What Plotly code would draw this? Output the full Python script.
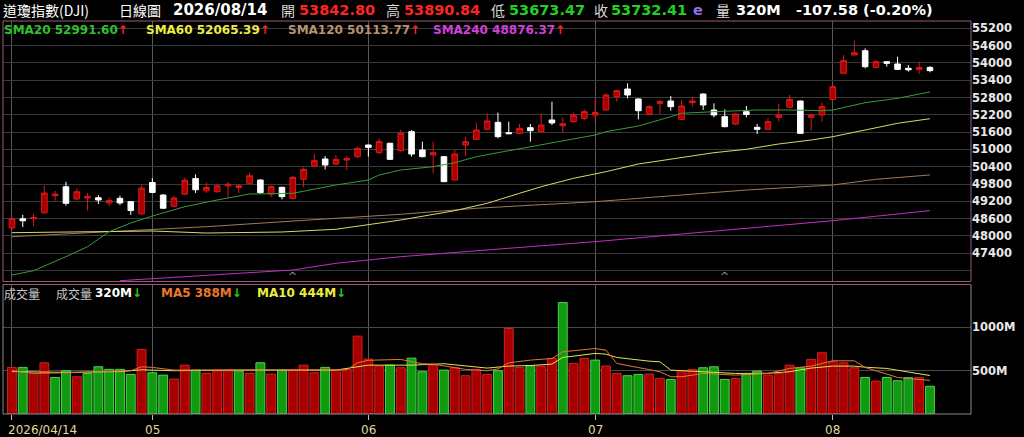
import plotly.graph_objects as go

# ---------------- data ----------------
opens = [48274, 48594, 48594, 48800, 49394, 49703, 49280, 49314, 49325, 49143,
         49303, 49188, 48765, 49851, 49417, 49028, 49451, 49988, 49565, 49531,
         49737, 49680, 49825, 49939, 49453, 49685, 49303, 49962, 50424, 50667,
         50494, 50632, 50748, 51153, 50887, 51211, 50956, 51615, 50979, 50806,
         50748, 49939, 51153, 51349, 51697, 51939, 51580, 51557, 51754, 51615,
         52020, 51820, 51962, 52077, 52190, 52367, 52829, 53095, 52748, 52228,
         52598, 52679, 52043, 52621, 52921, 52367, 52135, 51881, 52309, 51765,
         51696, 52112, 52459, 52679, 52112, 52193, 52736, 53638, 54274, 54424,
         53846, 54042, 53962, 53812, 53776, 53842.80]
highs = [48651, 48731, 48765, 49737, 49565, 49874, 49645, 49485, 49417, 49337,
         49394, 49211, 49760, 50000, 49451, 49394, 50023, 50137, 49851, 49794,
         49874, 49794, 50192, 49962, 49754, 49708, 50077, 50378, 50840, 50771,
         50806, 50771, 51095, 51165, 51384, 51234, 51673, 51673, 51268, 51268,
         50771, 50979, 51442, 51927, 52251, 52274, 51962, 51881, 51881, 52251,
         52655, 52112, 52274, 52390, 52736, 52945, 53060, 53291, 52771, 52540,
         52713, 52852, 52713, 52829, 52945, 52598, 52390, 52251, 52505, 51881,
         52077, 52575, 52887, 52690, 52228, 52621, 53233, 54274, 54771, 54505,
         54100, 54054, 54216, 53927, 54042, 53890.84]
lows = [48217, 48308, 48343, 48780, 49223, 49051, 49257, 48880, 49108, 49028,
        49074, 48731, 48742, 49485, 48937, 48994, 49417, 49485, 49485, 49508,
        49337, 49485, 49790, 49453, 49338, 49268, 49268, 49685, 50401, 50309,
        50459, 50286, 50690, 50748, 50840, 50633, 50921, 50748, 50725, 50170,
        49881, 49939, 50771, 51326, 51673, 51384, 51534, 51534, 51268, 51580,
        51846, 51580, 51927, 52020, 51962, 52343, 52655, 52771, 52043, 52193,
        52228, 52343, 52020, 52482, 52367, 52112, 51765, 51846, 52112, 51534,
        51673, 51962, 52424, 51534, 51650, 51962, 52713, 53615, 54262, 53812,
        53812, 53869, 53754, 53696, 53615, 53673.47]
closes = [48594, 48525, 48640, 49485, 49451, 49131, 49531, 49371, 49245, 49230,
          49143, 48880, 49657, 49508, 48960, 49314, 49931, 49600, 49680, 49737,
          49794, 49737, 50088, 49500, 49708, 49361, 50031, 50309, 50609, 50459,
          50655, 50690, 51037, 51072, 51269, 50656, 51557, 50840, 50748, 50887,
          49881, 50840, 51269, 51673, 51986, 51442, 51546, 51731, 51650, 51846,
          51920, 51890, 52193, 52309, 52280, 52887, 53037, 52887, 52343, 52482,
          52655, 52482, 52505, 52679, 52540, 52193, 51789, 52228, 52210, 51696,
          51962, 52193, 52736, 51557, 52193, 52482, 53175, 54077, 54355, 53869,
          54042, 53985, 53776, 53760, 53839.99, 53732.41]
volumes = [538, 538, 468, 591, 422, 499, 430, 468, 545, 515,
           515, 457, 745, 476, 449, 403, 564, 507, 468, 499,
           499, 499, 468, 591, 461, 507, 507, 564, 476, 538,
           507, 515, 899, 634, 553, 564, 534, 645, 488, 564,
           507, 534, 442, 515, 457, 499, 987, 538, 557, 553,
           641, 1286, 584, 641, 622, 553, 468, 442, 457, 461,
           411, 399, 499, 515, 534, 545, 399, 411, 457, 495,
           449, 468, 564, 534, 630, 707, 603, 591, 534, 422,
           380, 422, 384, 419, 419, 320]

sma20_idx = [0, 2, 5, 7, 9, 11, 13, 16, 19, 22, 26, 30, 33, 34, 36, 39, 41, 43, 46, 49,
             52, 54, 55, 58, 61, 62, 65, 69, 72, 75, 76, 77, 79, 82, 85]
sma20_val = [46644, 46794, 47279, 47626, 48146, 48448, 48691, 49013, 49245, 49453,
             49478, 49766, 49939, 50112, 50286, 50400, 50539, 50747, 50955, 51153,
             51350, 51500, 51614, 51812, 52134, 52252, 52308, 52367, 52367, 52343,
             52367, 52460, 52620, 52772, 52991.60]
sma60_idx = [0, 9, 13, 18, 25, 30, 33, 36, 41, 44, 47, 49, 52, 55, 58, 62, 65, 68, 71,
             74, 76, 79, 82, 85]
sma60_val = [48112, 48160, 48170, 48100, 48136, 48230, 48379, 48552, 48875, 49131,
             49478, 49707, 49998, 50227, 50494, 50720, 50886, 51004, 51188, 51326,
             51441, 51673, 51905, 52065.39]
sma120_idx = [0, 9, 18, 30, 36, 43, 54, 62, 68, 76, 80, 85]
sma120_val = [47973, 48146, 48320, 48611, 48750, 48958, 49187, 49419, 49592, 49766,
              49963, 50113.77]
sma240_idx = [10, 17, 26, 30, 36, 46, 54, 62, 68, 76, 85]
sma240_val = [46447, 46610, 46818, 47050, 47279, 47570, 47800, 48066, 48264, 48528,
              48876.37]

ma5_idx = [0, 2, 5, 8, 11, 12, 13, 15, 20, 25, 31, 32, 33, 36, 38, 39, 42, 44, 45, 46,
           48, 50, 51, 54, 55, 56, 60, 61, 62, 64, 67, 70, 72, 74, 76, 78, 79, 81, 82, 85]
ma5_val = [500, 470, 476, 488, 500, 545, 538, 507, 507, 507, 510, 590, 620, 630, 580,
           576, 515, 500, 520, 591, 622, 641, 718, 756, 737, 584, 488, 430, 430, 468,
           449, 468, 526, 553, 614, 614, 538, 461, 422, 388]
ma10_idx = [0, 5, 10, 12, 15, 20, 30, 32, 33, 37, 40, 44, 45, 46, 48, 50, 51, 54, 55,
            56, 59, 60, 61, 62, 64, 67, 70, 72, 74, 76, 78, 79, 81, 82, 85]
ma10_val = [490, 480, 490, 510, 500, 507, 507, 540, 564, 564, 580, 530, 538, 553, 560,
            576, 653, 699, 691, 653, 610, 603, 507, 500, 488, 468, 470, 488, 530, 553,
            553, 540, 526, 507, 444]

month_labels = ["2026/04/14", "05", "06", "07", "08"]
month_pos = [0, 13, 33, 54, 76]
price_ticks = [46800, 47400, 48000, 48600, 49200, 49800, 50400, 51000, 51600,
               52200, 52800, 53400, 54000, 54600, 55200]
vol_ticks = [500, 1000]
vol_tick_labels = ["500M", "1000M"]

# ---------------- figure ----------------
W, H = 1024, 437
L, R, T, B = 3, 971, 21, 414          # plot area in pixels


def px(x):
    return (x - L) / (R - L)


def py(y):
    return (B - y) / (B - T)


FONT = "DejaVu Sans, Noto Sans CJK TC"
CJK = "Noto Sans CJK TC, DejaVu Sans"

idx = list(range(len(closes)))
vol_colors, vol_lines = [], []
for i in idx:
    up = closes[i] > (closes[i - 1] if i > 0 else opens[i])
    vol_colors.append("#a80000" if up else "#109a10")
    vol_lines.append("#d02020" if up else "#50d050")

fig = go.Figure()
fig.add_trace(go.Candlestick(
    x=idx, open=opens, high=highs, low=lows, close=closes,
    increasing=dict(line=dict(color="#e01818", width=1), fillcolor="#a80000"),
    decreasing=dict(line=dict(color="#ffffff", width=1), fillcolor="#ffffff"),
    whiskerwidth=0, xaxis="x", yaxis="y", hoverinfo="skip", showlegend=False))

for xs, ys, col in [(sma240_idx, sma240_val, "#c030c0"),
                    (sma120_idx, sma120_val, "#9c7c5c"),
                    (sma60_idx, sma60_val, "#d8d868"),
                    (sma20_idx, sma20_val, "#3a9a3a")]:
    fig.add_trace(go.Scatter(x=xs, y=ys, mode="lines", line=dict(color=col, width=1),
                             xaxis="x", yaxis="y", hoverinfo="skip", showlegend=False))

fig.add_trace(go.Bar(x=idx, y=volumes, marker=dict(color=vol_colors,
                     line=dict(color=vol_lines, width=1)),
                     xaxis="x2", yaxis="y2", hoverinfo="skip", showlegend=False))
fig.add_trace(go.Scatter(x=ma10_idx, y=ma10_val, mode="lines",
                         line=dict(color="#e8e050", width=1),
                         xaxis="x2", yaxis="y2", hoverinfo="skip", showlegend=False))
fig.add_trace(go.Scatter(x=ma5_idx, y=ma5_val, mode="lines",
                         line=dict(color="#e07838", width=1),
                         xaxis="x2", yaxis="y2", hoverinfo="skip", showlegend=False))

main_bottom = py(281.5)
vol_top = py(284.5)
xr = [-0.83, 88.8]
yr_main = [55200 - (281.5 - 28.3) * 34.68, 55200 + (28.3 - 21) * 34.68]

fig.update_layout(
    width=W, height=H,
    margin=dict(l=L, r=W - R, t=T, b=H - B, pad=0),
    paper_bgcolor="black", plot_bgcolor="black",
    boxgap=0.26, bargap=0.18,
    xaxis=dict(domain=[0, 1], range=xr, anchor="y", tickvals=month_pos,
               showticklabels=False, showgrid=True, gridcolor="#5a5a5a", gridwidth=1,
               zeroline=False, ticks="", rangeslider=dict(visible=False), fixedrange=True),
    xaxis2=dict(domain=[0, 1], range=xr, anchor="y2", tickvals=month_pos,
                showticklabels=False, showgrid=True, gridcolor="#5a5a5a", gridwidth=1,
                zeroline=False, ticks="outside", ticklen=5, tickcolor="#bbbbbb",
                tickwidth=1, fixedrange=True),
    yaxis=dict(domain=[main_bottom, 1], range=yr_main, side="right", anchor="x",
               tickvals=price_ticks,
               ticktext=["" if v == 46800 else str(v) for v in price_ticks],
               showgrid=True, gridcolor="#383838", gridwidth=1, zeroline=False,
               ticks="", tickfont=dict(family=FONT, size=11.5, color="#e8e8e8",
                                       weight="bold"), fixedrange=True),
    yaxis2=dict(domain=[0, vol_top], range=[0, 1495], side="right", anchor="x2",
                tickvals=vol_ticks, ticktext=vol_tick_labels,
                showgrid=True, gridcolor="#484848", gridwidth=1, zeroline=False,
                ticks="", tickfont=dict(family=FONT, size=11.5, color="#e8e8e8",
                                        weight="bold"), fixedrange=True),
)

# panel borders
fig.add_shape(type="rect", xref="paper", yref="paper", x0=0, x1=1, y0=main_bottom, y1=1,
              line=dict(color="#9a5a72", width=1))
fig.add_shape(type="rect", xref="paper", yref="paper", x0=0, x1=1, y0=0, y1=vol_top,
              line=dict(color="#8a8a8a", width=1))
fig.add_shape(type="line", xref="paper", yref="paper", x0=0, x1=1, y0=vol_top, y1=vol_top,
              line=dict(color="#9a5a72", width=1))

ann = []


def text(x, y, s, color="#ffffff", size=12, bold=False, family=FONT, anchor="left"):
    ann.append(dict(xref="paper", yref="paper", x=px(x), y=py(y), text=s,
                    showarrow=False, xanchor=anchor, yanchor="middle",
                    font=dict(family=family, size=size, color=color,
                              weight="bold" if bold else "normal")))


# header line
RED, GREEN = "#ff2424", "#22d022"
text(1, 10, "道瓊指數(DJI)", "#ffffff", 14, family=CJK)
text(117, 10, "日線圖", "#ffffff", 14, family=CJK)
text(171, 10, "2026/08/14", "#ffffff", 15, bold=True)
text(279, 10, "開", "#d8d8d8", 14, family=CJK)
text(297, 10, "53842.80", RED, 14.5, bold=True)
text(384, 10, "高", "#d8d8d8", 14, family=CJK)
text(402, 10, "53890.84", RED, 14.5, bold=True)
text(489, 10, "低", "#d8d8d8", 14, family=CJK)
text(507, 10, "53673.47", GREEN, 14.5, bold=True)
text(592, 10, "收", "#d8d8d8", 14, family=CJK)
text(609, 10, "53732.41", GREEN, 14.5, bold=True)
text(691, 10, "e", "#9070e8", 14.5, bold=True)
text(714, 10, "量", "#d8d8d8", 14, family=CJK)
text(734, 10, "320M", "#ffffff", 14.5, bold=True)
text(794, 10, "-107.58 (-0.20%)", "#ffffff", 14.5, bold=True)

# MA legend row
UP = '<span style="color:#ff2020">↑</span>'
DN = '<span style="color:#20d020">↓</span>'
text(2, 30, "SMA20 52991.60" + UP, "#2ec02e", 12, bold=True)
text(144, 30, "SMA60 52065.39" + UP, "#ecec40", 12, bold=True)
text(286, 30, "SMA120 50113.77" + UP, "#b49272", 12, bold=True)
text(431, 30, "SMA240 48876.37" + UP, "#d040d8", 12, bold=True)

# volume legend row
text(2, 293, "成交量", "#c8c8c8", 12, family=CJK)
text(54, 293, "成交量", "#c8c8c8", 12, family=CJK)
text(93, 293, "320M" + DN, "#ffffff", 12, bold=True)
text(159, 293, "MA5 388M" + DN, "#e87830", 12, bold=True)
text(255, 293, "MA10 444M" + DN, "#ecec40", 12, bold=True)

# month labels
for k, (lab, pos) in enumerate(zip(month_labels, month_pos)):
    ann.append(dict(xref="x2", yref="paper", x=pos, y=py(430), text=lab, showarrow=False,
                    xanchor="left" if k == 0 else "center", yanchor="middle",
                    xshift=-6 if k == 0 else 0,
                    font=dict(family=FONT, size=12, color="#e0d898")))

# small caret marks near the panel bottom
for pos in [26, 66]:
    ann.append(dict(xref="x", yref="paper", x=pos, y=py(276), text="^", showarrow=False,
                    xanchor="center", yanchor="middle",
                    font=dict(family=FONT, size=11, color="#8a9a80")))

fig.update_layout(annotations=ann)
fig.write_html("out.html", config={"displayModeBar": False},
               post_script="document.body.style.margin='0';document.body.style.overflow='hidden';")
